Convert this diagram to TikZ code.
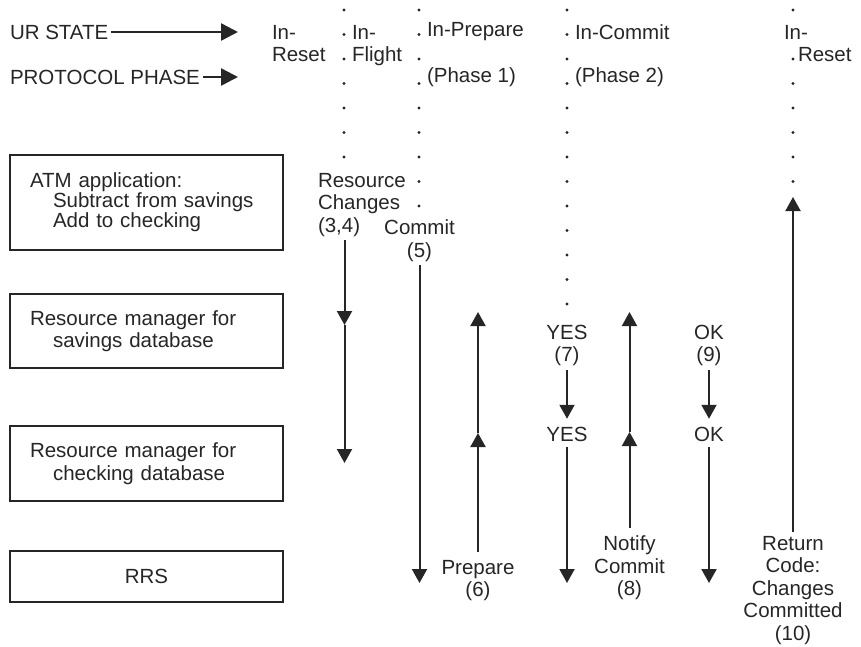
\documentclass[tikz,border=0pt]{standalone}
\usepackage{fontspec}
\setmainfont{Liberation Sans}
\usetikzlibrary{arrows.meta,positioning}

\tikzset{
  box/.style={draw, line width=2pt, outer sep=0pt, minimum width=273pt, text width=233pt, inner xsep=20pt, align=left},
  lbl/.style={inner sep=0pt, outer sep=0pt},
  arr/.style={line width=2pt, -{Triangle[length=14pt,width=15pt]}},
  bigarr/.style={line width=2.5pt, -{Triangle[length=17pt,width=17pt]}},
}
\newcommand{\ind}{\hspace*{23pt}}

\begin{document}
\begin{tikzpicture}[x=1pt, y=-1pt, font=\fontsize{20.5}{22.5}\selectfont, color=black!85]
\useasboundingbox (0,0) rectangle (861,646);

% participants
\node[box, minimum height=95pt, font=\fontsize{20.5}{20}\selectfont] (atm) at (146.5,202.5) {ATM application:\\\ind Subtract from savings\\\ind Add to checking};
\node[box, minimum height=74pt, below=44pt of atm] (sav) {Resource manager for\\\ind savings database};
\node[box, minimum height=75pt, below=58pt of sav] (chk) {Resource manager for\\\ind checking database};
\node[box, minimum height=51pt, below=50pt of chk, align=center] (rrs) {RRS};

% header rows
\node[lbl, anchor=west] (ur) at (10,32) {UR STATE};
\node[lbl, anchor=west] (pp) at (10,77) {PROTOCOL PHASE};
\coordinate (ure) at (238,32);
\coordinate (ppe) at (238,77);
\draw[bigarr, shorten <=3pt] (ur) -- (ure);
\draw[bigarr, shorten <=3pt] (pp) -- (ppe);

\node[lbl, anchor=north west, align=left] (s1) at (272,25) {In-\\Reset};
\node[lbl, anchor=north west, align=left] (s2) at (352,25) {In-\\Flight};
\node[lbl, anchor=west] (s3) at (427,32) {In-Prepare};
\node[lbl, anchor=west] (ph1) at (427,77) {(Phase 1)};
\node[lbl, anchor=west] (s4) at (575,32) {In-Commit};
\node[lbl, anchor=west] (ph2) at (575,77) {(Phase 2)};
\node[lbl, anchor=north west, align=left] (s5) at (784,25) {In-\\\hspace*{14pt}Reset};

% dotted state borders
\foreach \x/\n in {344/6, 419/8, 567/12}
  \foreach \i in {0,...,\n}
    \fill (\x,10+24.5*\i) circle (1.7pt);
\foreach \i in {0,2,3,...,7}
  \fill (793,10+24.5*\i) circle (1.7pt);

% flow labels
\node[lbl, anchor=north west, align=left] (chg) at (318,173) {Resource\\Changes\\(3,4)};
\node[lbl, anchor=north, align=center] (cmt) at (419.5,220) {Commit\\(5)};
\node[lbl, anchor=north, align=center] (prp) at (478,560) {Prepare\\(6)};
\node[lbl, anchor=north, align=center] (yes7) at (567,325) {YES\\(7)};
\node[lbl] (yes) at (567,434) {YES};
\node[lbl, anchor=north, align=center] (ntf) at (629.5,536) {Notify\\Commit\\(8)};
\node[lbl, anchor=north, align=center] (ok9) at (709,325) {OK\\(9)};
\node[lbl] (ok) at (709,434) {OK};
\node[lbl, anchor=north, align=center] (ret) at (793,536) {Return\\Code:\\Changes\\Committed\\(10)};

% flows
\coordinate (c1) at (344.5,325);
\coordinate (c2) at (344.5,463);
\draw[arr, shorten <=4pt] (chg.south -| c1) -- (c1);
\draw[arr] (c1) -- (c2);

\coordinate (c3) at (419.5,583);
\draw[arr, shorten <=3pt] (cmt) -- (c3);

\coordinate (p1) at (478,433);
\coordinate (p2) at (478,312);
\draw[arr, shorten <=8pt] (prp) -- (p1);
\draw[arr] (p1) -- (p2);

\coordinate (y2) at (567,583);
\draw[arr, shorten <=4pt, shorten >=8pt] (yes7) -- (yes);
\draw[arr, shorten <=6pt] (yes) -- (y2);

\coordinate (n1) at (629.5,432);
\coordinate (n2) at (629.5,312);
\draw[arr, shorten <=8pt] (ntf) -- (n1);
\draw[arr] (n1) -- (n2);

\coordinate (o2) at (709,583);
\draw[arr, shorten <=4pt, shorten >=8pt] (ok9) -- (ok);
\draw[arr, shorten <=6pt] (ok) -- (o2);

\coordinate (r1) at (793,197);
\draw[arr, shorten <=4pt] (ret) -- (r1);
\end{tikzpicture}
\end{document}
